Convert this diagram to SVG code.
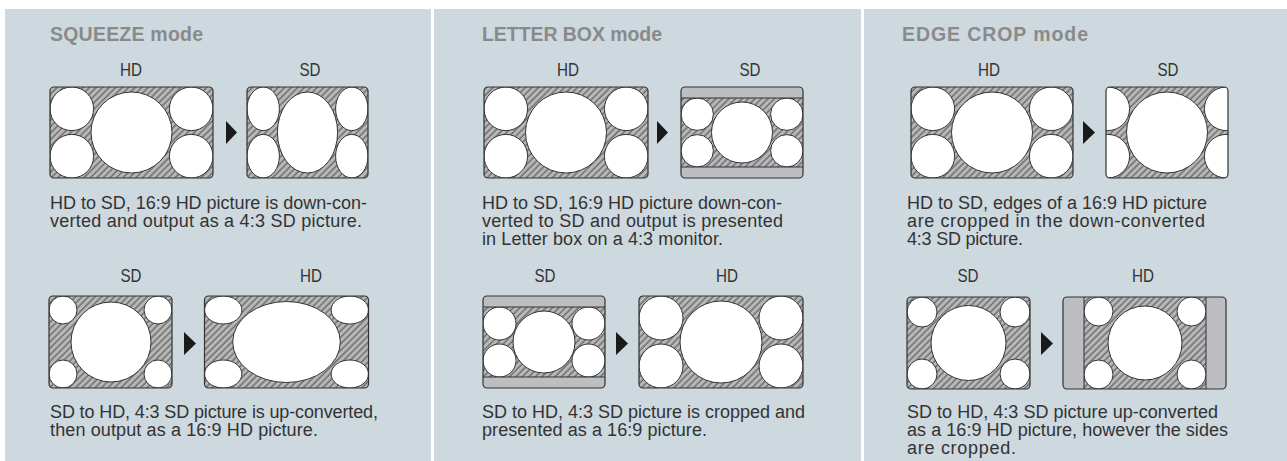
<svg xmlns="http://www.w3.org/2000/svg" width="1287" height="461" viewBox="0 0 1287 461">
<style>
.panel{fill:#cdd8df}
.pic{fill:url(#hatch)}
.frame{fill:none;stroke:#333;stroke-width:1.2}
.hole{fill:#fff;stroke:#333;stroke-width:1}
.bar{fill:#bdbec1;stroke:#333;stroke-width:1}
.title{font-family:"Liberation Sans",Arial,sans-serif;font-weight:bold;font-size:19.5px;fill:#8a8a8a}
.lbl{font-family:"Liberation Sans",Arial,sans-serif;font-size:18px;fill:#333;text-anchor:middle}
.desc{font-family:"Liberation Sans",Arial,sans-serif;font-size:18px;fill:#333}
.arrow{fill:#1a1a1a}
</style>
<defs>
<pattern id="hatch" patternUnits="userSpaceOnUse" width="4.6" height="4.6" patternTransform="rotate(45)">
<rect width="4.6" height="4.6" fill="#b8b8b8"/>
<line x1="1" y1="0" x2="1" y2="4.6" stroke="#3c3c3c" stroke-width="0.9"/>
</pattern>
<clipPath id="c1"><rect x="50" y="87" width="163" height="91" rx="4"/></clipPath>
<clipPath id="c2"><rect x="247" y="87" width="121" height="91" rx="4"/></clipPath>
<clipPath id="c3"><rect x="49" y="296" width="123" height="92" rx="4"/></clipPath>
<clipPath id="c4"><rect x="204.5" y="296" width="164" height="92" rx="4"/></clipPath>
<clipPath id="c5"><rect x="484" y="87" width="164" height="91" rx="4"/></clipPath>
<clipPath id="c6"><rect x="681" y="87" width="122" height="91" rx="4"/></clipPath>
<clipPath id="c7"><rect x="483" y="296" width="122" height="92" rx="4"/></clipPath>
<clipPath id="c8"><rect x="639" y="296" width="164" height="92" rx="4"/></clipPath>
<clipPath id="c9"><rect x="911" y="87" width="162" height="91" rx="4"/></clipPath>
<clipPath id="c10"><rect x="1106" y="87" width="122" height="91" rx="4"/></clipPath>
<clipPath id="c11"><rect x="907" y="297" width="123" height="92" rx="4"/></clipPath>
<clipPath id="c12"><rect x="1063" y="297" width="163" height="92" rx="4"/></clipPath>
</defs>

<rect width="1287" height="461" fill="#fff"/>
<rect class="panel" x="5" y="9" width="426" height="452"/>
<rect class="panel" x="434" y="9" width="427" height="452"/>
<rect class="panel" x="864" y="9" width="423" height="452"/>

<g id="squeeze-text">
<text class="title" x="50" y="41" textLength="153">SQUEEZE mode</text>
<text class="lbl" x="131" y="76" textLength="22" lengthAdjust="spacingAndGlyphs">HD</text>
<text class="lbl" x="310" y="76" textLength="21" lengthAdjust="spacingAndGlyphs">SD</text>
<text class="desc" x="50" y="209" textLength="317">HD to SD, 16:9 HD picture is down-con-</text>
<text class="desc" x="50" y="227" textLength="312">verted and output as a 4:3 SD picture.</text>
<text class="lbl" x="131" y="282" textLength="21" lengthAdjust="spacingAndGlyphs">SD</text>
<text class="lbl" x="311" y="282" textLength="22" lengthAdjust="spacingAndGlyphs">HD</text>
<text class="desc" x="50" y="418" textLength="328">SD to HD, 4:3 SD picture is up-converted,</text>
<text class="desc" x="50" y="436" textLength="268">then output as a 16:9 HD picture.</text>
</g>

<g id="sq-hd-top">
<g clip-path="url(#c1)">
<rect class="pic" x="50" y="87" width="163" height="91"/>
<circle class="hole" cx="131.5" cy="132.5" r="40.5"/>
<circle class="hole" cx="71.8" cy="108.8" r="21.8"/>
<circle class="hole" cx="191.2" cy="108.8" r="21.8"/>
<circle class="hole" cx="71.8" cy="156.2" r="21.8"/>
<circle class="hole" cx="191.2" cy="156.2" r="21.8"/>
</g>
<rect class="frame" x="50" y="87" width="163" height="91" rx="4"/>
</g>

<g id="sq-sd-top">
<g clip-path="url(#c2)">
<rect class="pic" x="247" y="87" width="121" height="91"/>
<ellipse class="hole" cx="307.5" cy="132.5" rx="30.1" ry="40.5"/>
<ellipse class="hole" cx="263.2" cy="108.8" rx="16.2" ry="21.8"/>
<ellipse class="hole" cx="351.8" cy="108.8" rx="16.2" ry="21.8"/>
<ellipse class="hole" cx="263.2" cy="156.2" rx="16.2" ry="21.8"/>
<ellipse class="hole" cx="351.8" cy="156.2" rx="16.2" ry="21.8"/>
</g>
<rect class="frame" x="247" y="87" width="121" height="91" rx="4"/>
</g>

<g id="sq-sd-bottom">
<g clip-path="url(#c3)">
<rect class="pic" x="49" y="296" width="123" height="92"/>
<circle class="hole" cx="111" cy="342" r="40"/>
<circle class="hole" cx="63" cy="310" r="14"/>
<circle class="hole" cx="158" cy="310" r="14"/>
<circle class="hole" cx="63" cy="374" r="14"/>
<circle class="hole" cx="158" cy="374" r="14"/>
</g>
<rect class="frame" x="49" y="296" width="123" height="92" rx="4"/>
</g>

<g id="sq-hd-bottom">
<g clip-path="url(#c4)">
<rect class="pic" x="204.5" y="296" width="164" height="92"/>
<ellipse class="hole" cx="286.5" cy="342" rx="53.8" ry="40.5"/>
<ellipse class="hole" cx="223.2" cy="310" rx="18.7" ry="14"/>
<ellipse class="hole" cx="349.8" cy="310" rx="18.7" ry="14"/>
<ellipse class="hole" cx="223.2" cy="374" rx="18.7" ry="14"/>
<ellipse class="hole" cx="349.8" cy="374" rx="18.7" ry="14"/>
</g>
<rect class="frame" x="204.5" y="296" width="164" height="92" rx="4"/>
</g>

<g id="letterbox-text">
<text class="title" x="482" y="41" textLength="180">LETTER BOX mode</text>
<text class="lbl" x="568" y="76" textLength="22" lengthAdjust="spacingAndGlyphs">HD</text>
<text class="lbl" x="750" y="76" textLength="21" lengthAdjust="spacingAndGlyphs">SD</text>
<text class="desc" x="482" y="209" textLength="300">HD to SD, 16:9 HD picture down-con-</text>
<text class="desc" x="482" y="227" textLength="301">verted to SD and output is presented</text>
<text class="desc" x="482" y="245" textLength="241">in Letter box on a 4:3 monitor.</text>
<text class="lbl" x="545" y="282" textLength="21" lengthAdjust="spacingAndGlyphs">SD</text>
<text class="lbl" x="727" y="282" textLength="22" lengthAdjust="spacingAndGlyphs">HD</text>
<text class="desc" x="482" y="418" textLength="323">SD to HD, 4:3 SD picture is cropped and</text>
<text class="desc" x="482" y="436" textLength="225">presented as a 16:9 picture.</text>
</g>

<g id="lb-hd-top">
<g clip-path="url(#c5)">
<rect class="pic" x="484" y="87" width="164" height="91"/>
<circle class="hole" cx="566" cy="132.5" r="40.5"/>
<circle class="hole" cx="505.8" cy="108.8" r="21.8"/>
<circle class="hole" cx="626.2" cy="108.8" r="21.8"/>
<circle class="hole" cx="505.8" cy="156.2" r="21.8"/>
<circle class="hole" cx="626.2" cy="156.2" r="21.8"/>
</g>
<rect class="frame" x="484" y="87" width="164" height="91" rx="4"/>
</g>

<g id="lb-sd-top">
<g clip-path="url(#c6)">
<rect class="pic" x="681" y="87" width="122" height="91"/>
<circle class="hole" cx="742" cy="132.5" r="30.5"/>
<circle class="hole" cx="697.2" cy="114.2" r="16.2"/>
<circle class="hole" cx="786.8" cy="114.2" r="16.2"/>
<circle class="hole" cx="697.2" cy="150.8" r="16.2"/>
<circle class="hole" cx="786.8" cy="150.8" r="16.2"/>
<rect class="bar" x="680" y="86" width="124" height="12"/>
<rect class="bar" x="680" y="167" width="124" height="12"/>
</g>
<rect class="frame" x="681" y="87" width="122" height="91" rx="4"/>
</g>

<g id="lb-sd-bottom">
<g clip-path="url(#c7)">
<rect class="pic" x="483" y="296" width="122" height="92"/>
<circle class="hole" cx="544" cy="342" r="31"/>
<circle class="hole" cx="499.5" cy="323.5" r="16.5"/>
<circle class="hole" cx="588.5" cy="323.5" r="16.5"/>
<circle class="hole" cx="499.5" cy="360.5" r="16.5"/>
<circle class="hole" cx="588.5" cy="360.5" r="16.5"/>
<rect class="bar" x="482" y="295" width="124" height="12"/>
<rect class="bar" x="482" y="377" width="124" height="12"/>
</g>
<rect class="frame" x="483" y="296" width="122" height="92" rx="4"/>
</g>

<g id="lb-hd-bottom">
<g clip-path="url(#c8)">
<rect class="pic" x="639" y="296" width="164" height="92"/>
<circle class="hole" cx="721" cy="342" r="41"/>
<circle class="hole" cx="661" cy="318" r="22"/>
<circle class="hole" cx="781" cy="318" r="22"/>
<circle class="hole" cx="661" cy="366" r="22"/>
<circle class="hole" cx="781" cy="366" r="22"/>
</g>
<rect class="frame" x="639" y="296" width="164" height="92" rx="4"/>
</g>

<g id="edgecrop-text">
<text class="title" x="902" y="41" textLength="186">EDGE CROP mode</text>
<text class="lbl" x="989" y="76" textLength="22" lengthAdjust="spacingAndGlyphs">HD</text>
<text class="lbl" x="1168" y="76" textLength="21" lengthAdjust="spacingAndGlyphs">SD</text>
<text class="desc" x="907" y="209" textLength="300">HD to SD, edges of a 16:9 HD picture</text>
<text class="desc" x="907" y="227" textLength="298">are cropped in the down-converted</text>
<text class="desc" x="907" y="245" textLength="116">4:3 SD picture.</text>
<text class="lbl" x="968" y="282" textLength="21" lengthAdjust="spacingAndGlyphs">SD</text>
<text class="lbl" x="1143" y="282" textLength="22" lengthAdjust="spacingAndGlyphs">HD</text>
<text class="desc" x="907" y="418" textLength="311">SD to HD, 4:3 SD picture up-converted</text>
<text class="desc" x="907" y="436" textLength="321">as a 16:9 HD picture, however the sides</text>
<text class="desc" x="907" y="454" textLength="109">are cropped.</text>
</g>

<g id="ec-hd-top">
<g clip-path="url(#c9)">
<rect class="pic" x="911" y="87" width="162" height="91"/>
<circle class="hole" cx="992" cy="132.5" r="40.5"/>
<circle class="hole" cx="932.8" cy="108.8" r="21.8"/>
<circle class="hole" cx="1051.2" cy="108.8" r="21.8"/>
<circle class="hole" cx="932.8" cy="156.2" r="21.8"/>
<circle class="hole" cx="1051.2" cy="156.2" r="21.8"/>
</g>
<rect class="frame" x="911" y="87" width="162" height="91" rx="4"/>
</g>

<g id="ec-sd-top">
<g clip-path="url(#c10)">
<rect class="pic" x="1106" y="87" width="122" height="91"/>
<circle class="hole" cx="1167" cy="132.5" r="40.5"/>
<circle class="hole" cx="1107.8" cy="108.8" r="21.8"/>
<circle class="hole" cx="1226.2" cy="108.8" r="21.8"/>
<circle class="hole" cx="1107.8" cy="156.2" r="21.8"/>
<circle class="hole" cx="1226.2" cy="156.2" r="21.8"/>
</g>
<rect class="frame" x="1106" y="87" width="122" height="91" rx="4"/>
</g>

<g id="ec-sd-bottom">
<g clip-path="url(#c11)">
<rect class="pic" x="907" y="297" width="123" height="92"/>
<circle class="hole" cx="968.5" cy="343" r="37.5"/>
<circle class="hole" cx="922" cy="312" r="15"/>
<circle class="hole" cx="1015" cy="312" r="15"/>
<circle class="hole" cx="922" cy="374" r="15"/>
<circle class="hole" cx="1015" cy="374" r="15"/>
</g>
<rect class="frame" x="907" y="297" width="123" height="92" rx="4"/>
</g>

<g id="ec-hd-bottom">
<g clip-path="url(#c12)">
<rect class="pic" x="1063" y="297" width="163" height="92"/>
<circle class="hole" cx="1145" cy="343" r="37"/>
<circle class="hole" cx="1098.5" cy="311.5" r="14.5"/>
<circle class="hole" cx="1191.5" cy="311.5" r="14.5"/>
<circle class="hole" cx="1098.5" cy="374.5" r="14.5"/>
<circle class="hole" cx="1191.5" cy="374.5" r="14.5"/>
<rect class="bar" x="1062" y="296" width="22" height="94"/>
<rect class="bar" x="1206" y="296" width="21" height="94"/>
</g>
<rect class="frame" x="1063" y="297" width="163" height="92" rx="4"/>
</g>

<g id="connectors">
<polygon class="arrow" points="226,121 237,132.5 226,144"/>
<polygon class="arrow" points="184,332 196,343.5 184,355"/>
<polygon class="arrow" points="657,121 668,132.5 657,144"/>
<polygon class="arrow" points="616,332 628,343.5 616,355"/>
<polygon class="arrow" points="1083,121 1095,132.5 1083,144"/>
<polygon class="arrow" points="1041,332 1053,343.5 1041,355"/>
</g>
</svg>
